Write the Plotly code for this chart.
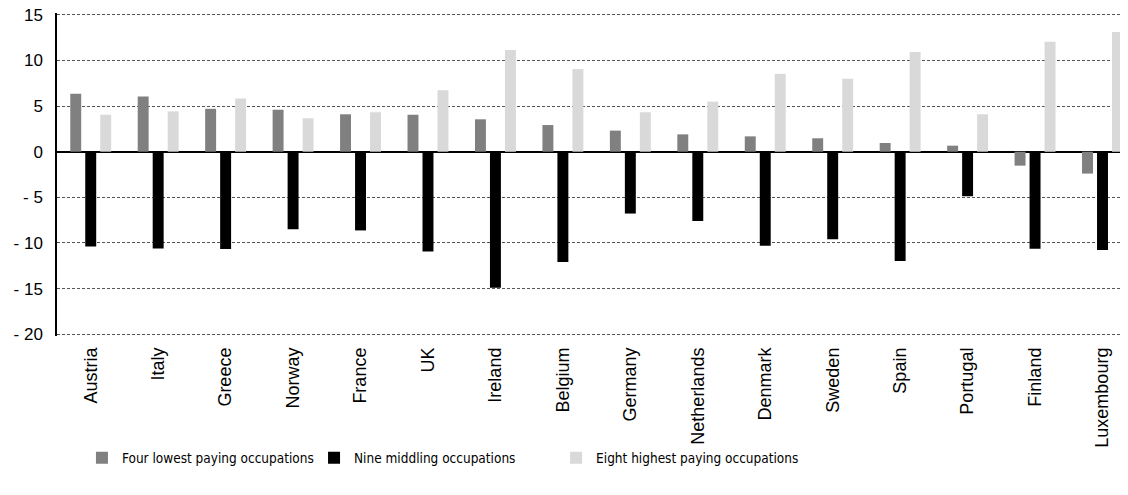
import plotly.graph_objects as go

countries = ["Austria", "Italy", "Greece", "Norway", "France", "UK", "Ireland", "Belgium",
             "Germany", "Netherlands", "Denmark", "Sweden", "Spain", "Portugal", "Finland", "Luxembourg"]
lowest = [6.35, 6.05, 4.7, 4.6, 4.1, 4.05, 3.55, 2.92, 2.31, 1.9, 1.68, 1.47, 0.95, 0.66, -1.53, -2.4]
middling = [-10.4, -10.6, -10.67, -8.5, -8.63, -10.93, -14.9, -12.1, -6.78, -7.6, -10.3, -9.6, -11.99, -4.88, -10.64, -10.78]
highest = [4.05, 4.42, 5.83, 3.66, 4.32, 6.74, 11.15, 9.05, 4.32, 5.49, 8.53, 7.99, 10.92, 4.1, 12.05, 13.11]

series_names = ["Four lowest paying occupations", "Nine middling occupations", "Eight highest paying occupations"]
colors = ["#808080", "#000000", "#d9d9d9"]
y_ticks = [15, 10, 5, 0, -5, -10, -15, -20]
y_ticktext = ["15", "10", "5", "0", "- 5", "- 10", "- 15", "- 20"]
title_text = "(% change)"

fig = go.Figure()
legends = ["legend", "legend2", "legend3"]
for name, vals, col, lg in zip(series_names, [lowest, middling, highest], colors, legends):
    fig.add_trace(go.Bar(x=countries, y=vals, name=name, marker=dict(color=col, line=dict(width=0)),
                         legend=lg, showlegend=True))

legend_font = dict(family="DejaVu Sans Condensed, Liberation Sans Narrow, Liberation Sans", size=13.5, color="#000000")
leg_common = dict(orientation="h", yanchor="middle", y=-0.378, xanchor="left",
                  bgcolor="rgba(0,0,0,0)", font=legend_font, itemwidth=30)

axis_font = dict(size=18, family="Liberation Sans, Arial", color="#000000")
y_font = dict(size=17, family="Liberation Sans, Arial", color="#000000")

# the page body has an 8px margin; the figure is sized so it fills the 1128x495 window
fig.update_layout(
    width=1120, height=487,
    margin=dict(l=49, r=0, t=5, b=159, autoexpand=False),
    paper_bgcolor="white", plot_bgcolor="white",
    showlegend=True,
    barmode="group", bargap=0.333, bargroupgap=0.27,
    font=dict(family="Liberation Sans, Arial", color="#000000"),
    legend=dict(x=0.0233, **leg_common),
    legend2=dict(x=0.240, **leg_common),
    legend3=dict(x=0.466, **leg_common),
    xaxis=dict(range=[-0.5, 15.378], showgrid=False, showline=False, ticks="",
               tickangle=-90, tickfont=axis_font, ticklabelstandoff=7, automargin=False),
    yaxis=dict(range=[-20.2, 15.2], tickvals=y_ticks, ticktext=y_ticktext,
               showgrid=True, gridcolor="#555555", gridwidth=1, griddash="3px,2px",
               zeroline=True, zerolinecolor="#000000", zerolinewidth=1.5,
               showline=True, linecolor="#000000", linewidth=1.5, ticks="",
               tickfont=y_font, ticklabelstandoff=9, automargin=False,
               ticklabeloverflow="allow"),
    annotations=[dict(text=title_text, xref="paper", yref="paper", x=0.452, y=1.031,
                      xanchor="center", yanchor="bottom", showarrow=False,
                      font=dict(family="Liberation Serif, Times New Roman", size=24, color="#000000"))],
)

fig.write_html("out.html")
